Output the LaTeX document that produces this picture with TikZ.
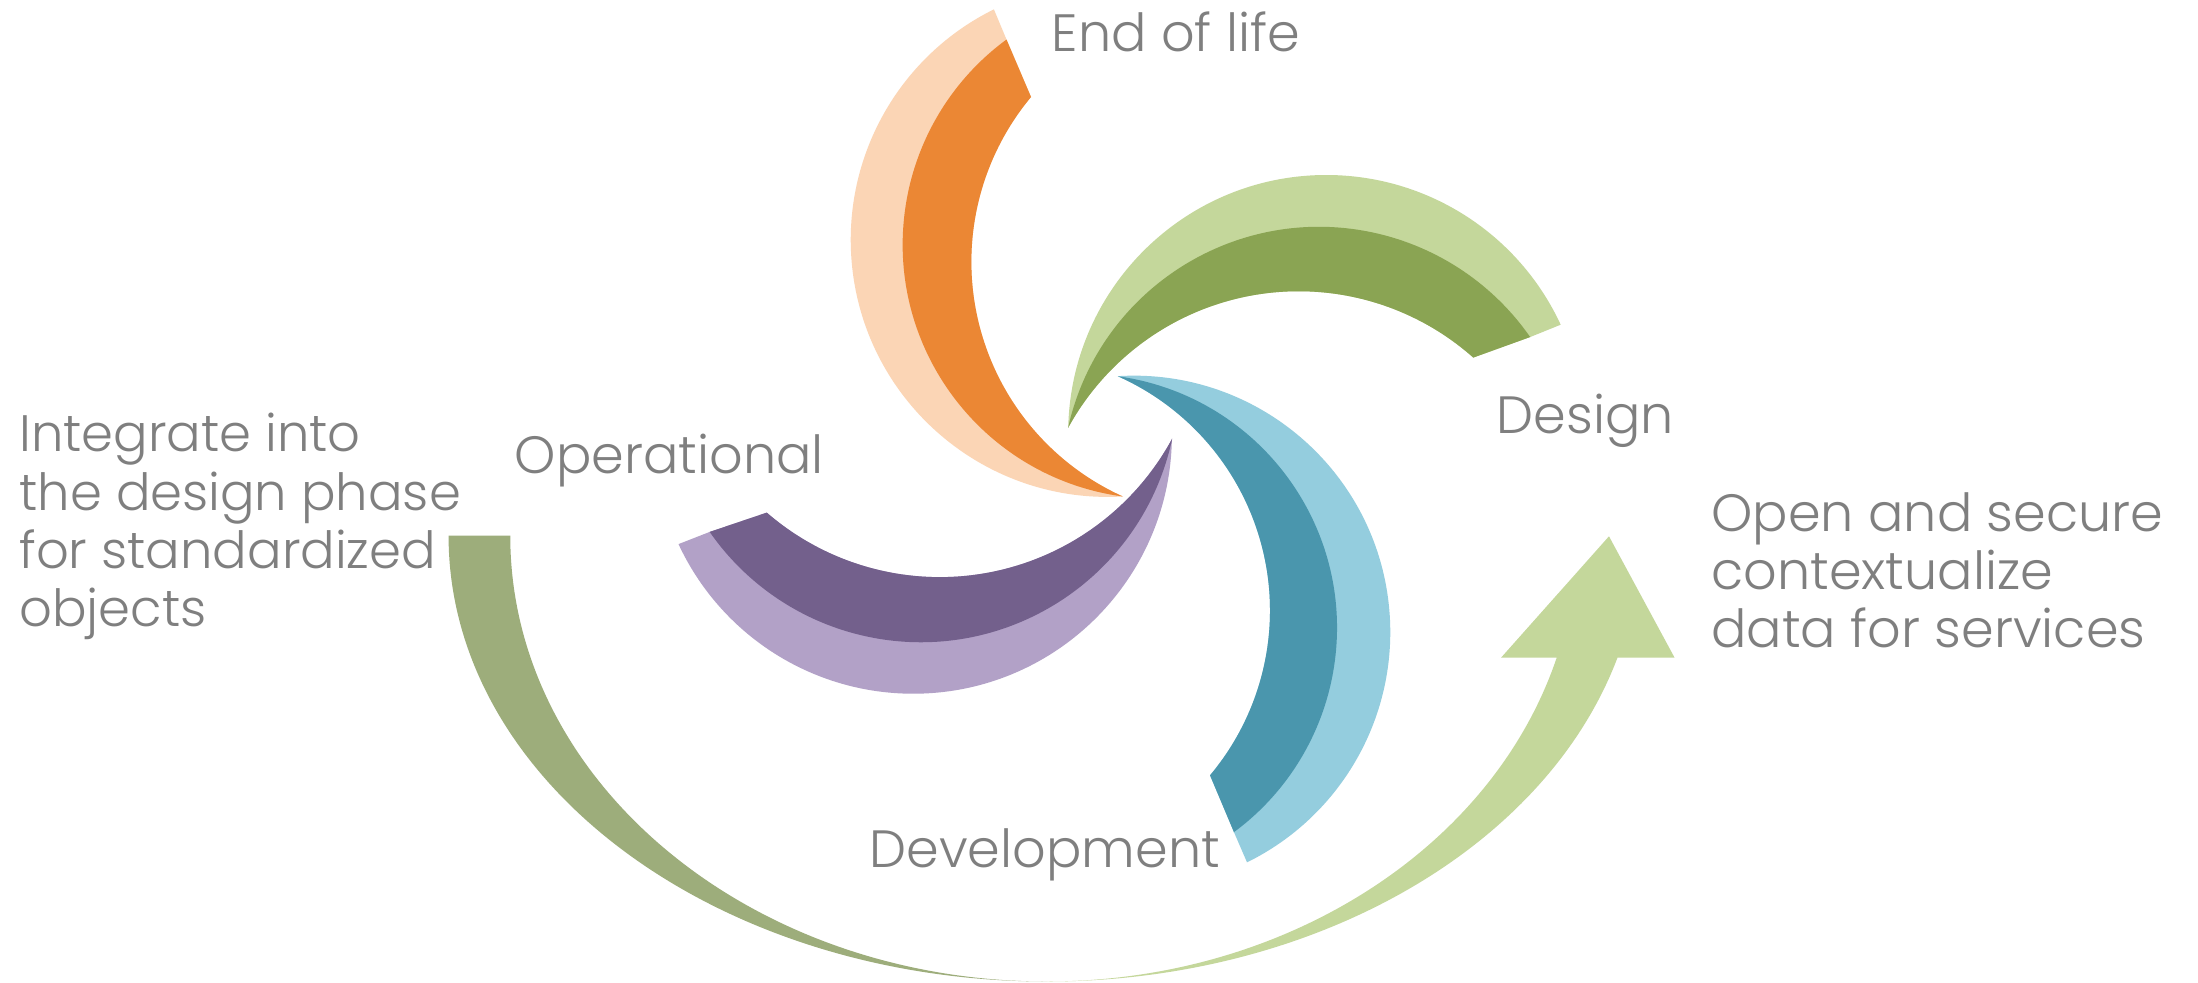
\documentclass[tikz,border=0pt]{standalone}
\usepackage{fontspec}
\IfFontExistsTF{Poppins Light}{\setmainfont{Poppins Light}}{\setmainfont{Poppins}}
\definecolor{peach}{HTML}{FBD5B5}
\definecolor{orng}{HTML}{EB8734}
\definecolor{lgreen}{HTML}{C4D79B}
\definecolor{dgreen}{HTML}{8AA453}
\definecolor{lblue}{HTML}{94CDDE}
\definecolor{teal2}{HTML}{4A96AD}
\definecolor{lpurple}{HTML}{B2A1C7}
\definecolor{dpurple}{HTML}{73608C}
\definecolor{olive}{HTML}{9DAD7B}
\definecolor{txtgray}{HTML}{7F7F7F}
\begin{document}
\begin{tikzpicture}[x=0.2mm,y=0.2mm,
  lbl/.style={text=txtgray, inner sep=0pt, anchor=base west, font=\fontsize{21.3}{25}\selectfont},
  lbls/.style={lbl, font=\fontsize{20.8}{25}\selectfont}]
\useasboundingbox (0,0) rectangle (1568,701.2);
\fill[white] (0,0) rectangle (1568,701.2);

% ---- U-shaped arrow ----
\fill[olive] (320,319) arc[start angle=180, end angle=270, x radius=427, y radius=318]
  arc[start angle=270, end angle=180, x radius=383, y radius=318] -- cycle;
\fill[lgreen] (747,1) arc[start angle=270, end angle=344.12, x radius=423, y radius=318]
  -- (1194.6,232) -- (1147.8,318.6) -- (1070.8,232) -- (1110.5,232)
  arc[start angle=344.12, end angle=270, x radius=378, y radius=318] -- cycle;

% ---- End of life (orange) ----
\fill[peach] (790.27,530.1) ++(273.4:183.4) arc[start angle=273.4, end angle=116.3, radius=183.4]
  -- (718,673) -- (735.5,632) arc[start angle=140.2, end angle=245.7, radius=183.7] -- cycle;
\fill[orng] (718,673) -- (735.5,632) arc[start angle=140.2, end angle=245.7, radius=183.7]
  arc[start angle=262.3, end angle=126.3, radius=181.4] -- cycle;

% ---- Design (green) ----
\fill[lgreen] (946.2,392.15) ++(178.8:184.2) arc[start angle=178.8, end angle=24.85, radius=184.2]
  -- (1091.7,460.8) -- (1051,446.1) arc[start angle=48.4, end angle=151.3, radius=187.6] -- cycle;
\fill[dgreen] (1091.7,460.8) -- (1051,446.1) arc[start angle=48.4, end angle=151.3, radius=187.6]
  arc[start angle=167.4, end angle=34.8, radius=183.5] -- cycle;

% ---- Development (teal) ----
\fill[lblue] (808.8,250.2) ++(93.5:183) arc[start angle=93.5, end angle=-63.8, radius=183]
  -- (880.3,107.5) -- (863.2,148.1) arc[start angle=-40, end angle=66, radius=182.9] -- cycle;
\fill[teal2] (880.3,107.5) -- (863.2,148.1) arc[start angle=-40, end angle=66, radius=182.9]
  arc[start angle=82.1, end angle=-53.6, radius=181.2] -- cycle;

% ---- Operational (purple) ----
\fill[lpurple] (651.4,390.9) ++(-0.8:184.6) arc[start angle=-0.8, end angle=-155.05, radius=184.6]
  -- (506.2,321.7) -- (547,335.5) arc[start angle=-130.9, end angle=-28.4, radius=188.5] -- cycle;
\fill[dpurple] (506.2,321.7) -- (547,335.5) arc[start angle=-130.9, end angle=-28.4, radius=188.5]
  arc[start angle=-12, end angle=-145.1, radius=183.4] -- cycle;

% ---- labels ----
\node[lbl] (eol) at (750,664.6) {End of life};
\node[lbl] (design) at (1067.5,391.9) {Design};
\node[lbl] (oper) at (367,363.3) {Operational};
\node[lbl] (dev) at (620,82) {Development};

\node[lbls] (l1) at (13.5,378.8) {Integrate into};
\node[lbls] (l2) at (13.5,337.2) {the design phase};
\node[lbls] (l3) at (13.5,295.6) {for standardized};
\node[lbls] (l4) at (13.5,254.0) {objects};

\node[lbl] (r1) at (1220.5,321.7) {Open and secure};
\node[lbl] (r2) at (1220.5,280.5) {contextualize};
\node[lbl] (r3) at (1220.5,239.3) {data for services};
\end{tikzpicture}
\end{document}
